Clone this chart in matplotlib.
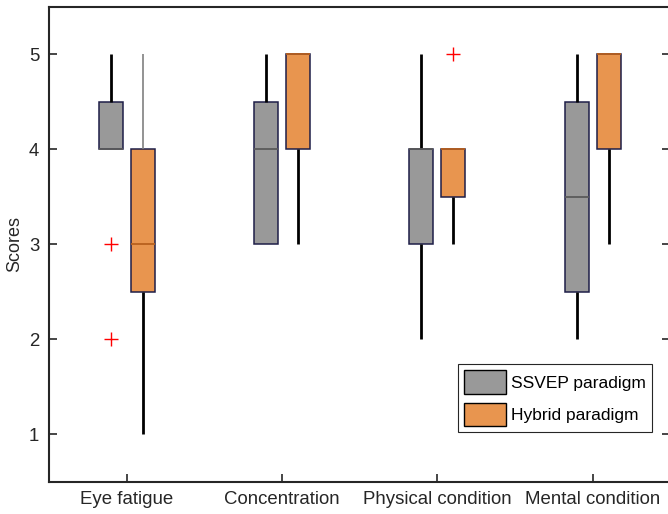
import matplotlib.pyplot as plt
from matplotlib.patches import Patch

plt.rcParams['font.family'] = ['Liberation Sans', 'DejaVu Sans']

categories = ['Eye fatigue', 'Concentration', 'Physical condition', 'Mental condition']

# SSVEP paradigm box statistics
ssvep_q1 = [4, 3, 3, 2.5]
ssvep_med = [4, 4, 4, 3.5]
ssvep_q3 = [4.5, 4.5, 4, 4.5]
ssvep_lo = [4, 3, 2, 2]
ssvep_hi = [5, 5, 5, 5]
ssvep_out = [[3, 2], [], [], []]

# Hybrid paradigm box statistics
hyb_q1 = [2.5, 4, 3.5, 4]
hyb_med = [3, 5, 4, 5]
hyb_q3 = [4, 5, 4, 5]
hyb_lo = [1, 3, 3, 3]
hyb_hi = [5, 5, 4, 5]
hyb_out = [[], [], [5], []]

gray = '#999999'
orange = '#E8954F'


def make_stats(q1, med, q3, lo, hi, out):
    return [dict(q1=a, med=b, q3=c, whislo=d, whishi=e, fliers=f)
            for a, b, c, d, e, f in zip(q1, med, q3, lo, hi, out)]


fig = plt.figure(figsize=(6.68, 5.14), dpi=100)
ax = fig.add_axes([0.0734, 0.0632, 0.93, 0.924])

pos = list(range(1, len(categories) + 1))
off = 0.103
w = 0.155
groups = [
    (make_stats(ssvep_q1, ssvep_med, ssvep_q3, ssvep_lo, ssvep_hi, ssvep_out),
     [p - off for p in pos], gray, '#5a5a5a'),
    (make_stats(hyb_q1, hyb_med, hyb_q3, hyb_lo, hyb_hi, hyb_out),
     [p + off for p in pos], orange, '#b8601e'),
]
results = []
for stats, xs, fc, mc in groups:
    r = ax.bxp(stats, positions=xs, widths=w, patch_artist=True,
               showcaps=False, manage_ticks=False,
               boxprops=dict(facecolor=fc, edgecolor='#1e1e48', linewidth=1.1),
               whiskerprops=dict(color='black', linewidth=2, solid_capstyle='butt'),
               medianprops=dict(color=mc, linewidth=1.3),
               flierprops=dict(marker='+', markeredgecolor='red',
                               markersize=10, markeredgewidth=1))
    results.append(r)

# upper whisker of the hybrid eye-fatigue box is drawn thin and grey
results[1]['whiskers'][1].set_color('#808080')
results[1]['whiskers'][1].set_linewidth(1.2)

ax.set_xlim(0.5, 4.5)
ax.set_ylim(0.5, 5.5)
ax.set_xticks(pos)
ax.set_xticklabels(categories)
ax.set_yticks([1, 2, 3, 4, 5])
ax.tick_params(direction='in', length=6, width=1.2, labelsize=13.4,
               colors='#262626', top=False, right=True, pad=7)
ax.set_ylabel('Scores', fontsize=13, color='#262626', labelpad=4)
for s in ax.spines.values():
    s.set_linewidth(1.5)
    s.set_color('#262626')

handles = [Patch(facecolor=gray, edgecolor='black', label='SSVEP paradigm'),
           Patch(facecolor=orange, edgecolor='black', label='Hybrid paradigm')]
leg = ax.legend(handles=handles, loc='lower right', bbox_to_anchor=(0.971, 0.104),
                fontsize=12.5, fancybox=False, edgecolor='#262626', framealpha=1,
                handlelength=2.4, handleheight=1.7, handletextpad=0.3,
                borderpad=0.35, labelspacing=0.5, borderaxespad=0)
leg.get_frame().set_linewidth(0.8)

fig.savefig('out.png', dpi=100)
